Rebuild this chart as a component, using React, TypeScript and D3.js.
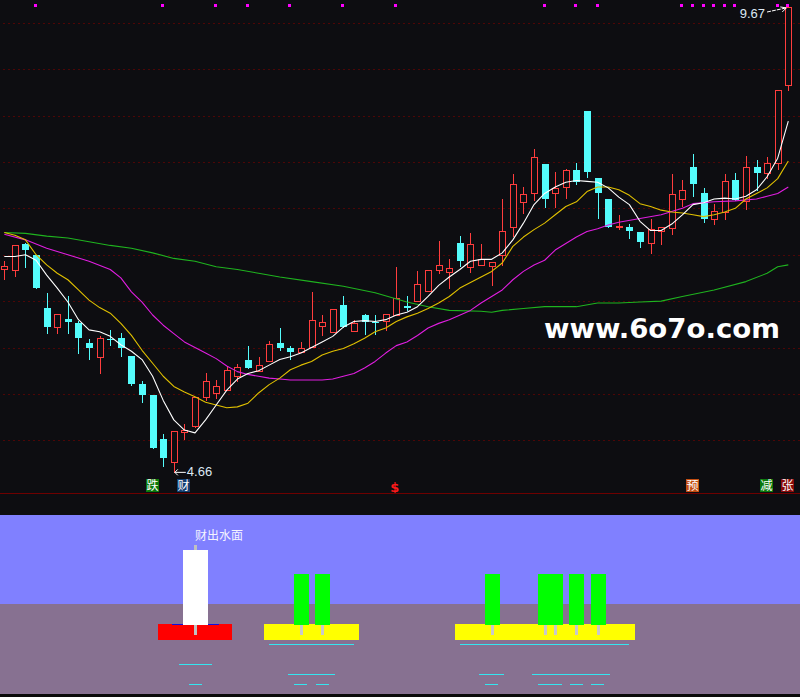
import React from 'react';
import * as d3 from 'd3';

// ---------- DATA ----------
const opens = [6.85, 6.83, 7.12, 7.0, 6.43, 6.22, 6.31, 6.26, 6.05, 5.9, 6.09, 6.1, 5.91, 5.61, 5.49, 5.01, 4.77, 5.09, 5.15, 5.47, 5.51, 5.54, 5.69, 5.87, 5.75, 5.85, 6.05, 5.99, 5.95, 6.01, 6.23, 6.17, 6.46, 6.18, 6.35, 6.28, 6.29, 6.35, 6.45, 6.5, 6.61, 6.83, 6.81, 7.13, 6.87, 6.89, 6.88, 7.0, 7.3, 7.57, 7.66, 7.98, 7.67, 7.73, 7.91, 8.55, 7.83, 7.6, 7.3, 7.3, 7.25, 7.13, 7.26, 7.29, 7.6, 7.94, 7.66, 7.38, 7.46, 7.81, 7.58, 7.94, 7.88, 7.99, 8.83];
const highs = [6.93, 7.1, 7.13, 7.0, 6.59, 6.36, 6.56, 6.29, 6.09, 6.12, 6.19, 6.16, 5.91, 5.64, 5.49, 5.07, 5.1, 5.18, 5.47, 5.72, 5.65, 5.8, 5.82, 6.02, 5.9, 6.07, 6.21, 6.02, 6.06, 6.6, 6.35, 6.42, 6.56, 6.3, 6.36, 6.35, 6.36, 6.87, 6.55, 6.82, 6.83, 7.15, 6.95, 7.2, 7.23, 7.12, 6.92, 7.6, 7.87, 7.73, 8.14, 7.98, 7.89, 7.92, 7.99, 8.55, 7.83, 7.6, 7.43, 7.33, 7.25, 7.38, 7.3, 7.87, 7.81, 8.09, 7.72, 7.55, 7.87, 7.88, 8.06, 8.02, 8.05, 8.78, 9.67];
const lows = [6.74, 6.77, 6.87, 6.64, 6.16, 6.16, 6.16, 5.94, 5.88, 5.73, 6.03, 5.91, 5.6, 5.41, 4.92, 4.72, 4.66, 5.01, 5.14, 5.43, 5.46, 5.54, 5.64, 5.78, 5.75, 5.85, 5.97, 5.88, 5.95, 6.01, 6.13, 6.17, 6.22, 6.18, 6.15, 6.15, 6.19, 6.35, 6.4, 6.5, 6.61, 6.8, 6.64, 6.88, 6.81, 6.89, 6.67, 6.89, 7.2, 7.45, 7.59, 7.51, 7.51, 7.61, 7.76, 7.84, 7.4, 7.3, 7.28, 7.18, 7.08, 7.02, 7.12, 7.22, 7.53, 7.63, 7.35, 7.33, 7.38, 7.59, 7.49, 7.7, 7.83, 7.92, 8.78];
const closes = [6.88, 7.1, 7.05, 6.64, 6.22, 6.36, 6.28, 6.1, 5.99, 6.1, 6.08, 6.0, 5.61, 5.49, 4.92, 4.81, 5.1, 5.11, 5.47, 5.64, 5.59, 5.76, 5.79, 5.78, 5.81, 6.04, 6.0, 5.95, 6.0, 6.3, 6.28, 6.42, 6.22, 6.26, 6.28, 6.27, 6.36, 6.53, 6.43, 6.68, 6.83, 6.89, 6.86, 6.93, 7.11, 6.95, 6.92, 7.26, 7.76, 7.65, 8.05, 7.6, 7.72, 7.91, 7.78, 7.89, 7.66, 7.3, 7.31, 7.26, 7.14, 7.28, 7.3, 7.65, 7.7, 7.76, 7.38, 7.47, 7.79, 7.59, 7.94, 7.88, 7.99, 8.78, 9.67];

// white line (MA5), one value per candle
const ma5 = [6.98, 6.98, 7.0, 6.94, 6.78, 6.64, 6.49, 6.3, 6.19, 6.17, 6.12, 6.03, 5.96, 5.87, 5.69, 5.43, 5.22, 5.11, 5.08, 5.22, 5.38, 5.54, 5.66, 5.72, 5.75, 5.81, 5.87, 5.9, 5.94, 6.0, 6.06, 6.12, 6.22, 6.28, 6.29, 6.28, 6.3, 6.35, 6.38, 6.44, 6.55, 6.67, 6.76, 6.84, 6.93, 6.95, 6.95, 7.02, 7.16, 7.34, 7.54, 7.66, 7.73, 7.78, 7.8, 7.79, 7.78, 7.72, 7.62, 7.54, 7.36, 7.26, 7.26, 7.33, 7.43, 7.54, 7.56, 7.6, 7.61, 7.6, 7.63, 7.7, 7.84, 8.04, 8.44];
// yellow line (MA10), one value per candle
const ma10 = [7.24, 7.21, 7.16, 7.0, 6.89, 6.8, 6.73, 6.62, 6.51, 6.43, 6.37, 6.26, 6.13, 5.97, 5.83, 5.69, 5.58, 5.52, 5.47, 5.41, 5.38, 5.35, 5.36, 5.4, 5.51, 5.6, 5.67, 5.76, 5.81, 5.85, 5.92, 5.96, 5.99, 6.04, 6.1, 6.17, 6.21, 6.28, 6.33, 6.37, 6.42, 6.48, 6.55, 6.64, 6.7, 6.76, 6.82, 6.91, 7.09, 7.19, 7.27, 7.34, 7.43, 7.52, 7.57, 7.68, 7.73, 7.73, 7.7, 7.64, 7.55, 7.52, 7.48, 7.46, 7.45, 7.43, 7.41, 7.43, 7.46, 7.5, 7.6, 7.66, 7.72, 7.82, 8.01];
// magenta line, sampled [candle index, value]
const maMidPts: [number, number][] = [[0, 7.22], [2, 7.16], [4, 7.07], [6, 7.0], [8, 6.93], [10, 6.84], [11, 6.75], [12, 6.6], [13, 6.49], [14, 6.35], [15, 6.24], [16, 6.15], [17, 6.06], [18, 6.0], [19, 5.94], [20, 5.88], [21, 5.8], [22, 5.74], [23, 5.71], [24, 5.69], [25, 5.67], [26, 5.66], [27, 5.65], [28, 5.65], [30, 5.65], [31, 5.66], [32, 5.69], [33, 5.72], [34, 5.78], [35, 5.85], [36, 5.94], [37, 6.02], [38, 6.06], [39, 6.13], [40, 6.21], [41, 6.26], [42, 6.3], [44, 6.4], [45, 6.48], [46, 6.55], [47, 6.62], [48, 6.73], [49, 6.82], [50, 6.89], [51, 6.94], [52, 7.05], [53, 7.12], [54, 7.19], [55, 7.25], [56, 7.28], [57, 7.32], [58, 7.35], [60, 7.39], [62, 7.43], [64, 7.5], [65, 7.55], [67, 7.57], [69, 7.58], [71, 7.6], [72, 7.63], [73, 7.66], [74, 7.73]];
// green line, sampled [candle index, value]
const maLongPts: [number, number][] = [[0, 7.24], [2, 7.23], [4, 7.2], [6, 7.18], [8, 7.14], [10, 7.1], [12, 7.07], [14, 7.02], [16, 6.96], [18, 6.93], [20, 6.87], [22, 6.84], [24, 6.8], [26, 6.76], [29, 6.71], [32, 6.66], [35, 6.59], [38, 6.49], [40, 6.44], [42, 6.4], [45, 6.39], [46, 6.38], [47, 6.4], [49, 6.42], [51, 6.44], [54, 6.44], [56, 6.48], [58, 6.48], [60, 6.49], [62, 6.5], [64, 6.55], [67, 6.62], [70, 6.71], [72, 6.8], [73, 6.87], [74, 6.89]];

const gridPrices = [5, 5.5, 6, 6.5, 7, 7.5, 8, 8.5, 9, 9.5];
const dotIdx = [3, 15, 20, 23, 27, 32, 37, 51, 54, 56, 64, 65, 66, 67, 68, 69, 73, 74];
const tagIdx = [14, 17, 65, 72, 74];
const tagText = ['跌', '财', '预', '减', '张'];
const tagColor = ['#0b780b', '#123e70', '#c24e12', '#0b780b', '#8a0c0c'];
const dollarIdx = [37];
const lowIdx = 16;
const highIdx = 74;

// lower panel ("财出水面") — levels on a 0..100 panel scale
const waterLevel = 50.3;
const whiteBarIdx = [18];
const greenBarIdx = [28, 30, 46, 51, 52, 54, 56];
const signalGroups: number[][] = [[18], [28, 30], [46, 51, 52, 54, 56]];
const barTop = { white: 80.45, green: 67.0 };
const stemTopLevel = 83.2;
const barBottom = 38.8;
const stemBottom = 33.0;
const baseTop = 39.1;
const baseBottom = 30.2;
const rippleLevels = [27.8, 16.6, 11.0, 5.4];
const panelTitle = '财出水面';

// ---------- SCALES ----------
const W = 800;
const H = 697;
const N = closes.length;
const x = d3.scaleLinear().domain([0, N - 1]).range([4.3, 788.3]);
const y = d3.scaleLinear().domain([5, 9.5]).range([440.3, 22.7]);
const yL = d3.scaleLinear().domain([0, 100]).range([694, 515]);
const step = x(1) - x(0);

const BG = '#0d0d11';
const RED = '#ff3d3d';
const CYAN = '#54fcfc';

function clusters(idx: number[], gap: number): number[][] {
  const out: number[][] = [];
  idx.forEach((v) => {
    const last = out[out.length - 1];
    if (last && v - last[last.length - 1] <= gap) last.push(v);
    else out.push([v]);
  });
  return out;
}

function Candles() {
  return (
    <g shapeRendering="crispEdges">
      {closes.map((c, i) => {
        const o = opens[i];
        const cx = Math.round(x(i));
        const up = c >= o;
        const top = Math.round(y(Math.max(o, c)));
        const bot = Math.round(y(Math.min(o, c)));
        const hi = Math.round(y(highs[i]));
        const lo = Math.round(y(lows[i]));
        if (up) {
          return (
            <g key={i} stroke={RED} strokeWidth={1}>
              {hi < top && <line x1={cx + 0.5} x2={cx + 0.5} y1={hi} y2={top} />}
              {lo > bot && <line x1={cx + 0.5} x2={cx + 0.5} y1={bot + 1} y2={lo + 1} />}
              <rect x={cx - 2.5} y={top + 0.5} width={6} height={Math.max(bot - top, 0)} fill={BG} />
            </g>
          );
        }
        return (
          <g key={i}>
            <line x1={cx + 0.5} x2={cx + 0.5} y1={hi} y2={lo + 1} stroke={CYAN} strokeWidth={1} />
            <rect x={cx - 3} y={top} width={7} height={Math.max(bot - top, 1)} fill={CYAN} />
          </g>
        );
      })}
    </g>
  );
}

function MALines() {
  const lineIdx = d3
    .line<number>()
    .x((_, i) => x(i))
    .y((v) => y(v));
  const linePts = d3
    .line<[number, number]>()
    .x((d) => x(d[0]))
    .y((d) => y(d[1]));
  return (
    <g fill="none" strokeWidth={1.1} strokeLinejoin="round">
      <path d={linePts(maLongPts) || ''} stroke="#1fb31f" />
      <path d={linePts(maMidPts) || ''} stroke="#e01ee0" />
      <path d={lineIdx(ma10) || ''} stroke="#e0c000" />
      <path d={lineIdx(ma5) || ''} stroke="#ffffff" />
    </g>
  );
}

function LowerPanel() {
  const groupsOut: React.ReactNode[] = [];
  signalGroups.forEach((g, gi) => {
    const isWhite = whiteBarIdx.includes(g[0]);
    const x0 = x(g[0]) - 3.5 * step;
    const x1 = x(g[g.length - 1]) + 3.5 * step;
    groupsOut.push(
      <rect key={'base' + gi} x={x0} y={yL(baseTop)} width={x1 - x0} height={yL(baseBottom) - yL(baseTop)} fill={isWhite ? '#ff0000' : '#ffff00'} />
    );
    if (isWhite) {
      groupsOut.push(
        <line key={'blue' + gi} x1={x(g[0]) - 23.5} x2={x(g[0]) + 24} y1={yL(baseTop) + 0.5} y2={yL(baseTop) + 0.5} stroke="#1010e0" />
      );
      groupsOut.push(
        <line key={'r1' + gi} x1={x(g[0]) - 16.5} x2={x(g[0]) + 16.5} y1={yL(rippleLevels[1])} y2={yL(rippleLevels[1])} stroke="#33e6f0" />
      );
    } else {
      groupsOut.push(
        <line key={'r0' + gi} x1={x(g[0]) - 3 * step} x2={x(g[g.length - 1]) + 3 * step} y1={yL(rippleLevels[0])} y2={yL(rippleLevels[0])} stroke="#33e6f0" />
      );
      clusters(g, 2).forEach((c, ci) => {
        groupsOut.push(
          <line key={'r2' + gi + '_' + ci} x1={x(c[0]) - 12.5} x2={x(c[c.length - 1]) + 12.5} y1={yL(rippleLevels[2])} y2={yL(rippleLevels[2])} stroke="#33e6f0" />
        );
      });
    }
    clusters(g, 1).forEach((c, ci) => {
      groupsOut.push(
        <line key={'r3' + gi + '_' + ci} x1={x(c[0]) - 6.5} x2={x(c[c.length - 1]) + 6.5} y1={yL(rippleLevels[3])} y2={yL(rippleLevels[3])} stroke="#33e6f0" />
      );
    });
  });

  return (
    <g shapeRendering="crispEdges">
      <rect x={0} y={yL(100)} width={W} height={yL(waterLevel) - yL(100)} fill="#8080ff" />
      <rect x={0} y={yL(waterLevel)} width={W} height={yL(0) - yL(waterLevel)} fill="#877191" />
      <rect x={0} y={yL(0)} width={W} height={H - yL(0)} fill="#0a0a0a" />
      {groupsOut}
      {whiteBarIdx.map((i) => (
        <g key={'w' + i}>
          <rect x={Math.round(x(i)) - 1} y={yL(stemTopLevel)} width={3} height={yL(barTop.white) - yL(stemTopLevel)} fill="#c0c0c0" />
          <rect x={Math.round(x(i)) - 1} y={yL(barBottom)} width={3} height={yL(stemBottom) - yL(barBottom)} fill="#c0c0c0" />
          <rect x={Math.round(x(i)) - 12} y={yL(barTop.white)} width={25} height={yL(barBottom) - yL(barTop.white)} fill="#ffffff" />
        </g>
      ))}
      {greenBarIdx.map((i) => (
        <rect key={'g' + i} x={Math.round(x(i)) - 7} y={yL(barTop.green)} width={15} height={yL(barBottom) - yL(barTop.green)} fill="#00ff00" />
      ))}
      {greenBarIdx.map((i) => (
        <rect key={'gs' + i} x={Math.round(x(i)) - 1} y={yL(barBottom)} width={3} height={yL(stemBottom) - yL(barBottom)} fill="#c8c8c8" />
      ))}
      <text x={x(whiteBarIdx[0])} y={yL(86.2)} fontSize={12} fill="#f4f2ff" fontFamily="'Noto Sans CJK SC', sans-serif" shapeRendering="auto">
        {panelTitle}
      </text>
    </g>
  );
}

export default function App() {
  const lowX = x(lowIdx);
  const lowY = y(lows[lowIdx]);
  const hiX = x(highIdx);
  const hiY = y(highs[highIdx]);
  return (
    <div>
      <style>{`body{margin:0;background:${BG};overflow:hidden}`}</style>
      <svg width={W} height={H} style={{ position: 'absolute', left: 0, top: 0, display: 'block' }}>
        <rect x={0} y={0} width={W} height={H} fill={BG} />
        {/* grid */}
        <g shapeRendering="crispEdges">
          {gridPrices.map((p) => (
            <line key={p} x1={3} x2={W} y1={Math.round(y(p)) + 0.5} y2={Math.round(y(p)) + 0.5} stroke="#4e0606" strokeDasharray="2,3" />
          ))}
        </g>
        {/* watermark */}
        <text x={544} y={338} fontSize={27} fontWeight="bold" fill="#ffffff" fontFamily="'DejaVu Sans', sans-serif" textLength={236} lengthAdjust="spacingAndGlyphs">
          www.6o7o.com
        </text>
        <Candles />
        <MALines />
        {/* magenta markers */}
        <g shapeRendering="crispEdges">
          {dotIdx.map((i) => (
            <rect key={i} x={Math.round(x(i)) - 2} y={4} width={3} height={3} fill="#ff00ff" />
          ))}
        </g>
        {/* high label */}
        <g>
          <line x1={767} y1={12} x2={hiX - 2} y2={hiY + 1} stroke="#ffffff" strokeWidth={1} strokeDasharray="4,1" />
          <path d={`M${hiX - 2},${hiY + 1} l-6,-1 M${hiX - 2},${hiY + 1} l-4,4`} stroke="#ffffff" fill="none" />
          <text x={765} y={18} textAnchor="end" fontSize={13} fill="#dce8f4" fontFamily="'Liberation Sans', Arial, sans-serif">
            {highs[highIdx].toFixed(2)}
          </text>
        </g>
        {/* low label */}
        <g>
          <line x1={lowX + 1} y1={lowY + 0.5} x2={lowX + 12} y2={lowY + 0.5} stroke="#ffffff" strokeWidth={1} />
          <path d={`M${lowX + 1},${lowY + 0.5} l3,-3 M${lowX + 1},${lowY + 0.5} l3,3`} stroke="#ffffff" fill="none" />
          <text x={lowX + 13} y={lowY + 4.5} fontSize={13} fill="#dce8f4" fontFamily="'Liberation Sans', Arial, sans-serif">
            {lows[lowIdx].toFixed(2)}
          </text>
        </g>
        {/* signal tags */}
        {tagIdx.map((i, k) => (
          <g key={i}>
            <rect x={Math.round(x(i)) - 7} y={479} width={13} height={13} fill={tagColor[k]} shapeRendering="crispEdges" />
            <text x={Math.round(x(i)) - 0.5} y={490} textAnchor="middle" fontSize={12} fill="#ffffff" fontFamily="'Noto Sans CJK SC', sans-serif">
              {tagText[k]}
            </text>
          </g>
        ))}
        {dollarIdx.map((i) => (
          <text key={i} x={x(i) - 1.5} y={492} textAnchor="middle" fontSize={13} fontWeight="bold" fill="#ff1a1a" fontFamily="'DejaVu Sans', sans-serif">
            $
          </text>
        ))}
        {/* separator */}
        <line x1={0} x2={W} y1={493.5} y2={493.5} stroke="#6e0000" shapeRendering="crispEdges" />
        <LowerPanel />
      </svg>
    </div>
  );
}
